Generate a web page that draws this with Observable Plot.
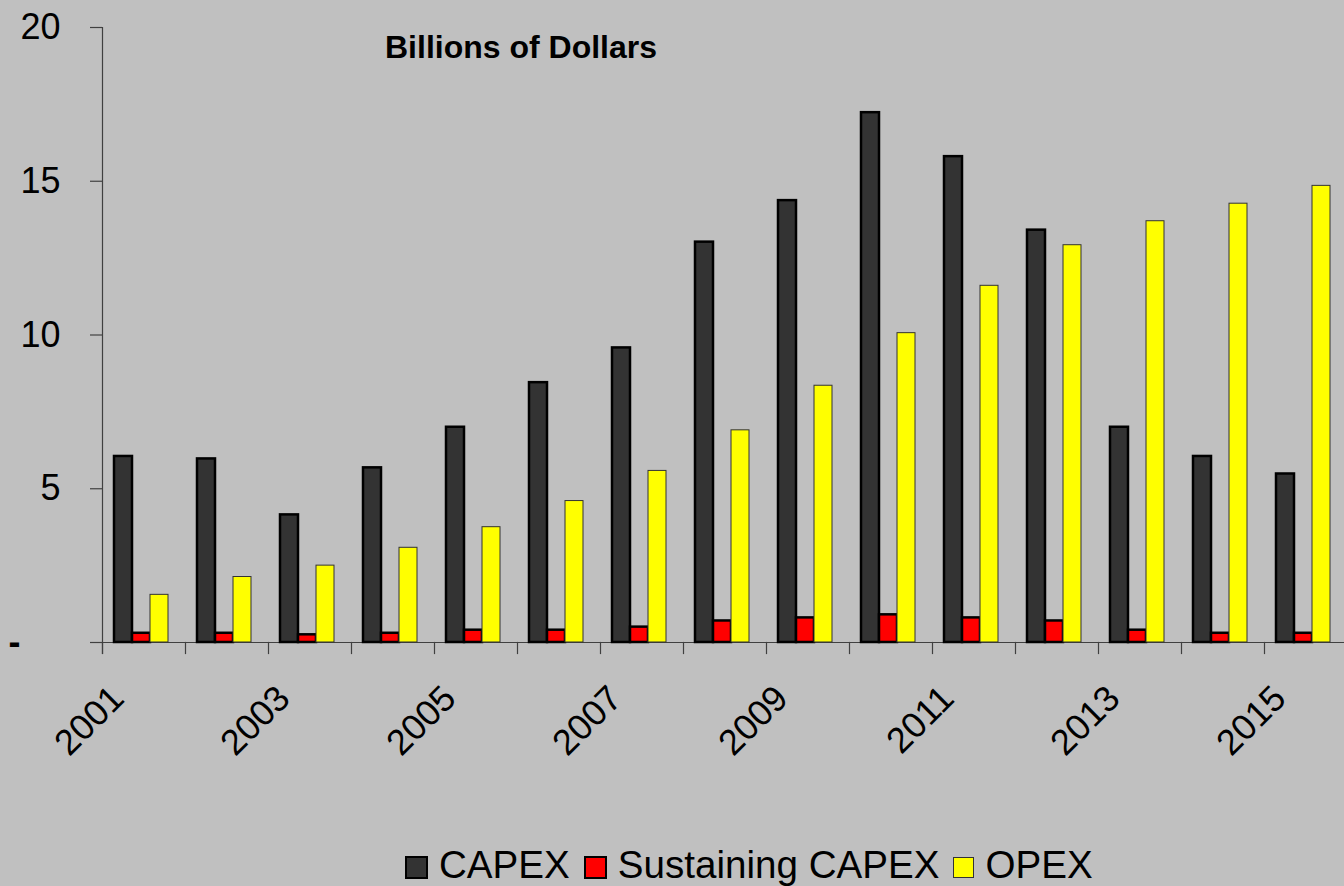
<!DOCTYPE html>
<html>
<head>
<meta charset="utf-8">
<script src="https://cdn.jsdelivr.net/npm/d3@7"></script>
<script src="https://cdn.jsdelivr.net/npm/@observablehq/plot@0.6"></script>
<style>
  html, body { margin: 0; padding: 0; background: #c0c0c0; }
  #wrap { position: relative; width: 1344px; height: 886px; overflow: hidden;
          font-family: "Liberation Sans", Arial, sans-serif; background: #c0c0c0; }
  #chart svg { display: block; }
  #title { position: absolute; left: 385px; top: 31px; font-size: 32px; line-height: 32px;
           font-weight: bold; color: #000; white-space: nowrap; }
  #legend { position: absolute; left: 405px; top: 846px; height: 38px; display: flex;
            align-items: center; font-size: 38.6px; line-height: 38px; color: #000; white-space: nowrap; }
  .sw { display: inline-block; box-sizing: border-box; width: 23px; height: 23px; border: 2px solid #000;
        position: relative; top: 2px; margin-right: 11px; }
  .item { display: flex; align-items: center; margin-right: 14px; }
</style>
</head>
<body>
<div id="wrap">
  <div id="chart"></div>
  <div id="title">Billions of Dollars</div>
  <div id="legend"></div>
</div>
<script>
// ---- data ----
const years = ["2001","2002","2003","2004","2005","2006","2007","2008","2009","2010","2011","2012","2013","2014","2015"];
const labelYears = ["2001","2003","2005","2007","2009","2011","2013","2015"];
const series = ["CAPEX", "Sustaining CAPEX", "OPEX"];
const capex      = [6.05, 5.97, 4.15, 5.68, 7.0, 8.45, 9.58, 13.02, 14.37, 17.23, 15.8, 13.41, 7.0, 6.05, 5.48];
const sustaining = [0.3, 0.3, 0.25, 0.3, 0.4, 0.4, 0.5, 0.7, 0.8, 0.9, 0.8, 0.7, 0.4, 0.3, 0.3];
const opex       = [1.55, 2.13, 2.5, 3.08, 3.75, 4.6, 5.58, 6.9, 8.35, 10.06, 11.6, 12.92, 13.7, 14.27, 14.85];
const yTicks = [5, 10, 15, 20];
const seriesColors = ["#333333", "#ff0000", "#ffff00"];
const seriesStroke = ["#000000", "#000000", "#333333"];
const seriesStrokeWidth = [2.5, 2.5, 1];

const valuesBySeries = [capex, sustaining, opex];
const rows = years.flatMap((yr, i) => series.map((s, j) => ({year: yr, series: s, value: valuesBySeries[j][i]})));

const barMarks = series.map((s, j) =>
  Plot.barY(rows.filter(d => d.series === s), {
    fx: "year", x: "series", y: "value", fill: "series",
    stroke: seriesStroke[j], strokeWidth: seriesStrokeWidth[j]
  })
);

const axisColor = "#404040";

const plot = Plot.plot({
  width: 1344,
  height: 820,
  marginLeft: 101,
  marginRight: 0,
  marginTop: 27,
  marginBottom: 178,
  style: {background: "#c0c0c0", fontFamily: "'Liberation Sans', Arial, sans-serif", color: "#000", overflow: "hidden"},
  fx: {domain: years, range: [101, 1348], padding: 0, axis: null, label: null},
  x: {domain: series, paddingInner: 0, paddingOuter: 0.688, align: 0.42, axis: null, label: null},
  y: {domain: [0, 20], axis: null, label: null},
  color: {domain: series, range: seriesColors},
  marks: [
    Plot.ruleY([0], {stroke: axisColor, strokeWidth: 1.2}),
    // short category-boundary ticks below the baseline
    Plot.frame({anchor: "left", insetTop: 615, insetBottom: -11, stroke: axisColor, strokeWidth: 1.2}),
    // value-axis line (drawn once across the whole plot)
    Plot.frame({anchor: "left", insetBottom: -11, stroke: axisColor, strokeWidth: 1.2, facet: "super"}),
    ...barMarks,
    Plot.axisY({ticks: yTicks, tickSize: 12, tickPadding: 30, fontSize: 36, stroke: axisColor, strokeWidth: 1.2, label: null, fill: "#000"}),
    Plot.axisY({ticks: [0], tickFormat: () => "-", tickSize: 12, tickPadding: 70, fontSize: 36, stroke: axisColor, strokeWidth: 1.2, fontWeight: "bold", label: null, fill: "#000"}),
    Plot.text(labelYears, {fx: d => d, text: d => d, frameAnchor: "bottom", rotate: -45,
      textAnchor: "end", lineAnchor: "bottom", dx: -18, dy: 58, fontSize: 36, fill: "#000"})
  ]
});
document.getElementById("chart").appendChild(plot);

// legend
const legend = document.getElementById("legend");
series.forEach((s, j) => {
  const item = document.createElement("div");
  item.className = "item";
  const sw = document.createElement("span");
  sw.className = "sw";
  sw.style.background = seriesColors[j];
  sw.style.borderColor = seriesStroke[j];
  if (seriesStrokeWidth[j] < 2) { sw.style.borderWidth = "1px"; sw.style.width = "21px"; sw.style.height = "21px"; }
  const t = document.createElement("span");
  t.textContent = s;
  item.appendChild(sw);
  item.appendChild(t);
  legend.appendChild(item);
});
</script>
</body>
</html>
